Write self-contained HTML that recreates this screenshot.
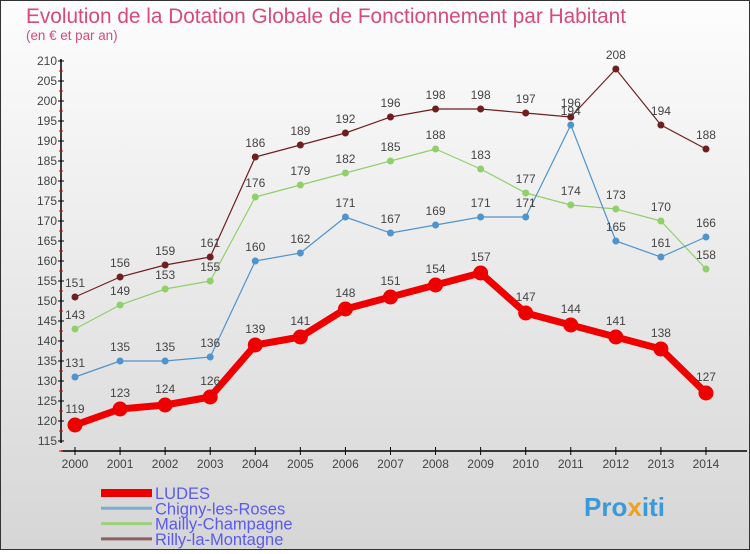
<!DOCTYPE html>
<html><head><meta charset="utf-8"><style>
body{margin:0;width:750px;height:550px;overflow:hidden;font-family:"Liberation Sans",sans-serif}
#c{position:absolute;left:0;top:0;width:748px;height:548px;border:1px solid #333;background:linear-gradient(#fdfdfd,#d6d6d6)}
</style></head><body>
<div id="c">
<svg id="s" width="748" height="548" xmlns="http://www.w3.org/2000/svg">
<text x="25" y="22" font-size="20.8" fill="#d64a7c">Evolution de la Dotation Globale de Fonctionnement par Habitant</text>
<text x="25" y="39" font-size="13.4" fill="#d64a7c">(en € et par an)</text>
<g id="axes"></g><g id="series"></g><g id="legend"></g>
<text x="583" y="515" font-size="26" font-weight="bold" fill="#3a9ad9">Pro<tspan fill="#f0a020">x</tspan>iti</text>
</svg></div>
<script>
const years=[2000,2001,2002,2003,2004,2005,2006,2007,2008,2009,2010,2011,2012,2013,2014];
const yTicks=[115,120,125,130,135,140,145,150,155,160,165,170,175,180,185,190,195,200,205,210];
const ludes=[119,123,124,126,139,141,148,151,154,157,147,144,141,138,127];
const chigny=[131,135,135,136,160,162,171,167,169,171,171,194,165,161,166];
const mailly=[143,149,153,155,176,179,182,185,188,183,177,174,173,170,158];
const rilly=[151,156,159,161,186,189,192,196,198,198,197,196,208,194,188];
const NS="http://www.w3.org/2000/svg";
function X(i){return 74+i*45.07;}
function Y(v){return 420-(v-120)*4;}
function mk(t,a,p){const e=document.createElementNS(NS,t);for(const k in a)e.setAttribute(k,a[k]);p.appendChild(e);return e;}
const ax=document.getElementById('axes');
let yl=mk('line',{x1:60,y1:58,x2:60,y2:442,stroke:'#000','stroke-width':1.5},ax);


let xl=mk('line',{x1:60,y1:450,x2:746,y2:450,stroke:'#000','stroke-width':1.5},ax);


yTicks.forEach(v=>{
 mk('line',{x1:57,y1:Y(v),x2:63,y2:Y(v),stroke:'#000'},ax);
 mk('line',{x1:58,y1:Y(v)+10,x2:62,y2:Y(v)+10,stroke:'#e00'},ax);
 const t=mk('text',{x:56,y:Y(v)+4,'font-size':12,fill:'#444','text-anchor':'end'},ax);t.textContent=v;
 
 
});
years.forEach((y,i)=>{
 mk('line',{x1:X(i),y1:446,x2:X(i),y2:454,stroke:'#000'},ax);
 const t=mk('text',{x:X(i),y:467,'font-size':12,fill:'#444','text-anchor':'middle'},ax);t.textContent=y;
 
 
});
const sg=document.getElementById('series');
function draw(d,col,dot,w,r,name,lblOff){
 const g=mk('g',{},sg);
 
 
 const p=mk('polyline',{points:d.map((v,i)=>X(i)+','+Y(v)).join(' '),fill:'none',stroke:col,'stroke-width':w,'stroke-linejoin':'round'},g);
 
 
 d.forEach((v,i)=>{
  const c=mk('circle',{cx:X(i),cy:Y(v),r:r,fill:dot,stroke:col,'stroke-width':1},g);
  
  
  const t=mk('text',{x:X(i),y:Y(v)-lblOff,'font-size':12,fill:'#444','text-anchor':'middle'},g);t.textContent=v;
  
  
 });
}
draw(rilly,'#6e2020','#6e2020',1.2,3,'rilly',10);
draw(mailly,'#8fd06a','#8fd06a',1.2,3,'mailly',10);
draw(chigny,'#4f94cc','#4f94cc',1.2,3,'chigny',10);
draw(ludes,'#ee0000','#ee0000',7,7,'ludes',12);
const lg=document.getElementById('legend');
[['LUDES','#ee0000',8],['Chigny-les-Roses','#7aaed0',3],['Mailly-Champagne','#9ed080',3],['Rilly-la-Montagne','#8a6060',3]].forEach((e,i)=>{
 const y=492+i*15.3;
 const l=mk('line',{x1:100,y1:y,x2:151,y2:y,stroke:e[1],'stroke-width':e[2]},lg);
 
 
 const t=mk('text',{x:154,y:y+6,'font-size':16.5,fill:'#5a5aee'},lg);t.textContent=e[0];
 
 
});
</script></body></html>
